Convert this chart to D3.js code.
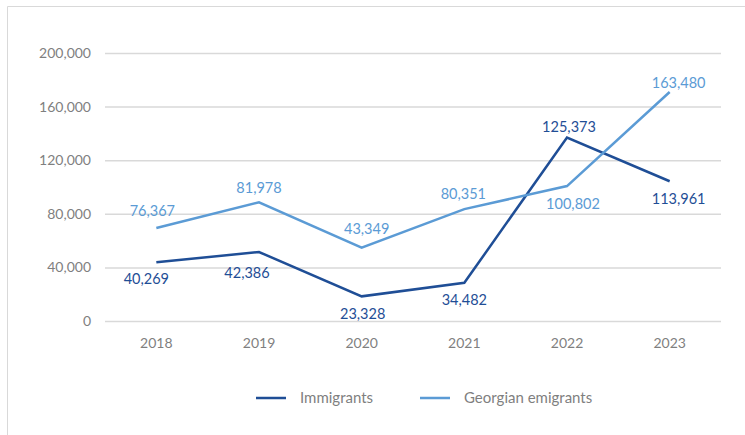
<!DOCTYPE html>
<html>
<head>
<meta charset="utf-8">
<script src="https://cdn.jsdelivr.net/npm/d3@7"></script>
<style>
    body { margin: 0; background: #fff; }
    svg { display: block; font-family: Lato, "Open Sans", sans-serif; }
</style>
</head>
<body>
<svg id="chart" width="745" height="435"></svg>
<script>
// --- Data ---
const years = ['2018', '2019', '2020', '2021', '2022', '2023'];
const immigrants = [43800, 51500, 18400, 28500, 136900, 104300];
const emigrants = [69400, 88600, 54800, 83500, 100700, 170900];
const immigrantLabels = ['40,269', '42,386', '23,328', '34,482', '125,373', '113,961'];
const emigrantLabels = ['76,367', '81,978', '43,349', '80,351', '100,802', '163,480'];
const yTicks = [0, 40000, 80000, 120000, 160000, 200000];

const series = [
    { name: 'Immigrants', values: immigrants, labels: immigrantLabels, color: '#1f4e96',
      place: [[-10, 17], [-12, 21], [1, 18], [0, 17], [2, -11], [9, 18]] },
    { name: 'Georgian emigrants', values: emigrants, labels: emigrantLabels, color: '#5b9bd5',
      place: [[-4, -17], [0, -14], [5, -19], [-1, -15], [6, 18], [9, -9]] },
];

const width = 745, height = 435;
const margin = { top: 53, right: 24, bottom: 114, left: 105 };
const svg = d3.select('#chart');

// Frame
svg.append('path')
    .attr('d', `M7.5,${height} V6.5 H${width}`)
    .attr('fill', 'none').attr('stroke', '#d9d9d9').attr('stroke-width', 1);

const x = d3.scaleBand()
    .domain(years)
    .range([margin.left, width - margin.right])
    .padding(0);

const y = d3.scaleLinear()
    .domain([0, 200000])
    .range([height - margin.bottom, margin.top]);

// Gridlines + y labels
const yAxis = svg.append('g')
    .attr('transform', `translate(${margin.left},0)`)
    .call(d3.axisLeft(y).tickValues(yTicks).tickSize(-(width - margin.left - margin.right))
        .tickPadding(14).tickFormat(d3.format(',')));
yAxis.select('.domain').remove();
yAxis.selectAll('.tick line').attr('stroke', '#d9d9d9').attr('stroke-width', 1.5);
yAxis.selectAll('text').attr('fill', '#7f7f7f').attr('font-size', 14).attr('font-family', 'Lato, sans-serif');

// X labels
const xAxis = svg.append('g')
    .attr('transform', `translate(0,${height - margin.bottom})`)
    .call(d3.axisBottom(x).tickSize(0).tickPadding(17));
xAxis.select('.domain').remove();
xAxis.selectAll('text').attr('fill', '#7f7f7f').attr('font-size', 14).attr('font-family', 'Lato, sans-serif');

const cx = d => x(d) + x.bandwidth() / 2;
const line = d3.line().x((d, i) => cx(years[i])).y(d => y(d));

for (const s of series) {
    svg.append('path')
        .datum(s.values)
        .attr('d', line)
        .attr('fill', 'none')
        .attr('stroke', s.color)
        .attr('stroke-width', 2.5)
        .attr('stroke-linejoin', 'miter');

    svg.selectAll(null)
        .data(s.values)
        .join('text')
        .attr('x', (d, i) => cx(years[i]) + s.place[i][0])
        .attr('y', (d, i) => y(d) + s.place[i][1])
        .attr('dy', '0.35em')
        .attr('text-anchor', 'middle')
        .attr('fill', s.color)
        .attr('font-size', 14.5)
        .text((d, i) => s.labels[i]);
}

// Legend
const legend = svg.append('g').attr('transform', 'translate(0,398)');
const legendX = [256, 420];
series.forEach((s, i) => {
    const g = legend.append('g').attr('transform', `translate(${legendX[i]},0)`);
    g.append('line').attr('x1', 0).attr('x2', 30).attr('y1', 0).attr('y2', 0)
        .attr('stroke', s.color).attr('stroke-width', 2.5);
    g.append('text').attr('x', 44).attr('y', 0).attr('dy', '0.35em')
        .attr('fill', '#7f7f7f').attr('font-size', 15).text(s.name);
});
</script>
</body>
</html>
